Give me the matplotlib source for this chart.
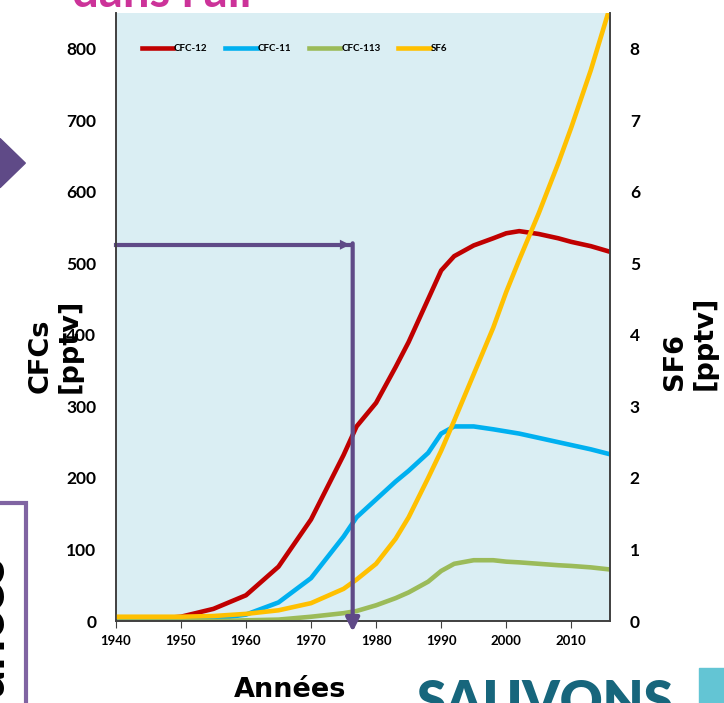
import matplotlib

matplotlib.use("Agg")

import matplotlib.pyplot as plt
from matplotlib.patches import Rectangle, Polygon

# values (pptv)
years = [1940, 1945, 1950, 1955, 1960, 1965, 1970, 1975, 1977, 1980, 1983, 1985, 1988,
         1990, 1992, 1995, 1998, 2000, 2002, 2005, 2008, 2010, 2013, 2016]
cfc12 = [1, 2, 6, 17, 36, 76, 142, 232, 272, 305, 355, 390, 450,
         490, 510, 525, 535, 542, 545, 541, 535, 530, 524, 516]
cfc11 = [0, 0, 1, 3, 9, 26, 60, 118, 145, 170, 195, 210, 235,
         262, 272, 272, 268, 265, 262, 256, 250, 246, 240, 233]
cfc113 = [0, 0, 0, 0, 1, 2, 6, 11, 14, 22, 32, 40, 55,
          70, 80, 85, 85, 83, 82, 80, 78, 77, 75, 72]
sf6 = [0.06, 0.06, 0.06, 0.07, 0.10, 0.15, 0.25, 0.45, 0.58, 0.80, 1.15, 1.45, 2.0,
       2.38, 2.8, 3.45, 4.1, 4.6, 5.05, 5.7, 6.4, 6.9, 7.7, 8.6]

series = [("CFC-12", cfc12, "#C00000"), ("CFC-11", cfc11, "#00B0F0"),
          ("CFC-113", cfc113, "#9BBB59")]
cfc_ticks = [0, 100, 200, 300, 400, 500, 600, 700, 800]
sf6_ticks = [0, 1, 2, 3, 4, 5, 6, 7, 8]
year_ticks = [1940, 1950, 1960, 1970, 1980, 1990, 2000, 2010]

plt.rcParams["font.family"] = ["Lato", "DejaVu Sans"]
purple = "#5F4A87"
label_font = dict(family="DejaVu Sans", fontweight="bold")

fig = plt.figure(figsize=(7.24, 7.03), dpi=100)
ax = fig.add_axes([0.160, 0.1166, 0.683, 0.865])
ax.set_facecolor("#DAEEF3")
ax2 = ax.twinx()

handles = []
for name, values, color in series:
    (h,) = ax.plot(years, values, color=color, lw=3.3, label=name)
    handles.append(h)
(h,) = ax2.plot(years, sf6, color="#FFC000", lw=3.3, label="SF6")
handles.append(h)

ax.set_xlim(1940, 2016)
ax.set_ylim(0, 850)
ax2.set_ylim(0, 8.5)
ax.set_xticks(year_ticks)
ax.set_yticks(cfc_ticks)
ax2.set_yticks(sf6_ticks)
ax.tick_params(axis="x", direction="out", length=5, color="#404040", labelsize=9.5, pad=5)
ax.tick_params(axis="y", length=0, labelsize=12.5, pad=14)
ax2.tick_params(axis="y", length=0, labelsize=12.5, pad=14)
for lab in ax.get_xticklabels() + ax.get_yticklabels() + ax2.get_yticklabels():
    lab.set_fontweight("bold")

for a in (ax, ax2):
    a.spines["top"].set_visible(False)
    for s in ("left", "right", "bottom"):
        a.spines[s].set_color("#404040")
        a.spines[s].set_linewidth(1.2)

ax2.legend(handles=handles, loc="upper left", bbox_to_anchor=(0.035, 0.963), ncol=4,
           frameon=False, prop={"size": 7, "weight": "bold"}, handlelength=3.2,
           handletextpad=0.1, columnspacing=1.85)

# arrow pointing to the mid-1970s
ax2.plot([1940, 1976.0], [5.26, 5.26], color=purple, lw=3, clip_on=False)
ax2.annotate("", xy=(1976.4, 5.26), xytext=(1974.5, 5.26),
             arrowprops=dict(arrowstyle="-|>", color=purple, lw=0, mutation_scale=18))
ax2.annotate("", xy=(1976.4, -0.15), xytext=(1976.4, 5.28), annotation_clip=False,
             arrowprops=dict(arrowstyle="-|>", color=purple, lw=3, mutation_scale=20,
                             shrinkA=0, shrinkB=0))

fig.text(0.076, 0.441, "CFCs\n[pptv]", rotation=90, ha="center", va="bottom",
         fontsize=19.5, multialignment="left", linespacing=1.15, **label_font)
fig.text(0.953, 0.445, "SF6\n[pptv]", rotation=90, ha="center", va="bottom",
         fontsize=19.5, multialignment="left", linespacing=1.15, **label_font)
fig.text(0.40, 0.018, "Années", ha="center", va="center", fontsize=19.5, **label_font)

# slide decorations cut off by the crop
fig.text(0.10, 0.99, "dans l'air", ha="left", va="baseline", fontsize=34,
         fontweight="bold", color="#CC3399")
fig.patches.append(Polygon([(0, 0.803), (0.035, 0.768), (0, 0.733)], closed=True,
                           transform=fig.transFigure, color=purple))
fig.patches.append(Rectangle((-0.05, -0.05), 0.086, 0.334, transform=fig.transFigure,
                             fill=False, edgecolor="#8064A2", lw=3))
fig.text(0.017, 0.01, "ances", rotation=90, ha="right", va="bottom", fontsize=40,
         fontweight="bold", color="black")
fig.text(0.575, -0.035, "SAUVONS", ha="left", va="bottom", fontsize=38,
         fontweight="heavy", color="#17667C")
fig.patches.append(Rectangle((0.965, -0.05), 0.04, 0.1, transform=fig.transFigure,
                             color="#63C5D4"))

fig.savefig("out.png", dpi=100, facecolor="white")
